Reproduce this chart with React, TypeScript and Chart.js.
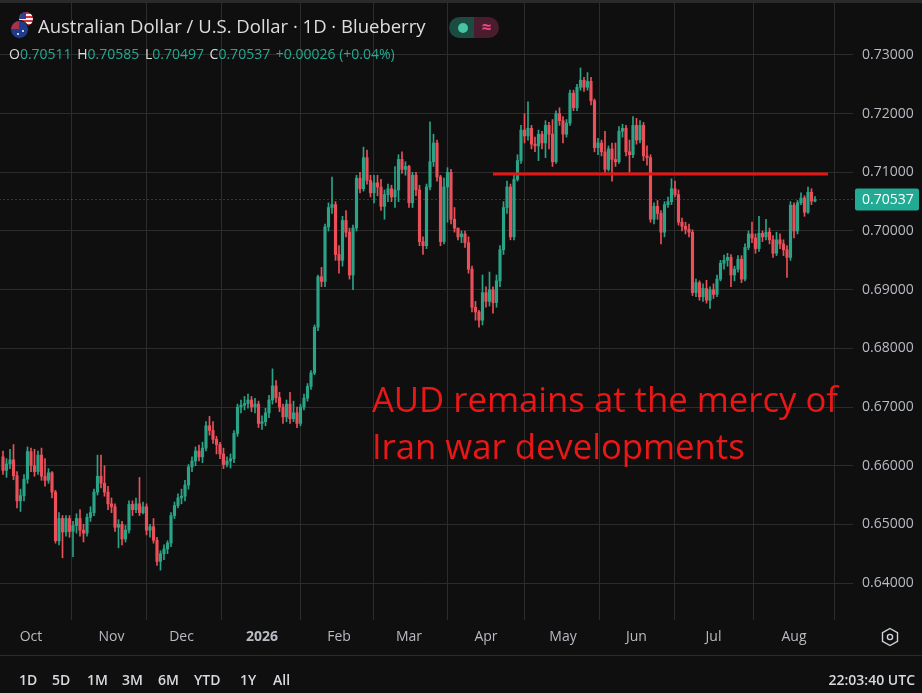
import { useEffect, useRef } from "react";
import Chart from "chart.js/auto";

// AUD/USD daily candles (open = previous close)
const FIRST_OPEN = 0.6615;

const CLOSES = [
  0.6592, 0.6603, 0.661, 0.6583, 0.654, 0.6549, 0.6577, 0.6624, 0.66, 0.659,
  0.6618, 0.6582, 0.6575, 0.6588, 0.6555, 0.6472, 0.651, 0.6487, 0.651, 0.6488,
  0.6498, 0.651, 0.649, 0.6485, 0.6512, 0.652, 0.6555, 0.6582, 0.657, 0.6555,
  0.6535, 0.653, 0.6495, 0.65, 0.6475, 0.649, 0.6534, 0.6525, 0.6535, 0.652,
  0.653, 0.649, 0.6496, 0.6473, 0.6437, 0.645, 0.6458, 0.6468, 0.6515, 0.6532,
  0.6545, 0.6548, 0.6567, 0.6598, 0.6608, 0.6625, 0.6615, 0.663, 0.6668, 0.666,
  0.6645, 0.6636, 0.662, 0.6602, 0.6608, 0.6612, 0.6655, 0.67, 0.6703, 0.6706,
  0.6712, 0.67, 0.6705, 0.6672, 0.6675, 0.669, 0.6712, 0.6736, 0.6716, 0.67,
  0.6683, 0.6705, 0.668, 0.669, 0.6672, 0.67, 0.6715, 0.6735, 0.6758, 0.6836,
  0.6922, 0.6914, 0.7007, 0.704, 0.7045, 0.696, 0.695, 0.7018, 0.6998, 0.6925,
  0.7005, 0.709, 0.7072, 0.7125, 0.7086, 0.7065, 0.7082, 0.7075, 0.7042, 0.7062,
  0.7072, 0.7058, 0.707, 0.7122, 0.7105, 0.711, 0.7048, 0.7095, 0.707, 0.6982,
  0.6975, 0.7075, 0.7118, 0.715, 0.7092, 0.6982, 0.7075, 0.71, 0.702, 0.7005,
  0.699, 0.6995, 0.698, 0.6935, 0.687, 0.6862, 0.6848, 0.6895, 0.688, 0.69,
  0.6878, 0.6915, 0.6968, 0.704, 0.7075, 0.699, 0.7088, 0.712, 0.7172, 0.7162,
  0.7175, 0.7148, 0.7145, 0.7165, 0.715, 0.718, 0.7165, 0.7118, 0.72, 0.7188,
  0.7165, 0.7184, 0.7235, 0.721, 0.7245, 0.7257, 0.7245, 0.7255, 0.7222, 0.7142,
  0.715, 0.7135, 0.7105, 0.714, 0.7122, 0.7118, 0.717, 0.7175, 0.7135, 0.713,
  0.718, 0.7155, 0.718, 0.7128, 0.7125, 0.702, 0.7042, 0.703, 0.6998, 0.7045,
  0.705, 0.7072, 0.7062, 0.7015, 0.7008, 0.7003, 0.6998, 0.6895, 0.6912, 0.6888,
  0.6902, 0.6882, 0.69, 0.6892, 0.6918, 0.6945, 0.695, 0.6955, 0.6925, 0.6935,
  0.6952, 0.6918, 0.6972, 0.6995, 0.6988, 0.697, 0.6996, 0.699, 0.6998, 0.6985,
  0.6962, 0.6985, 0.6978, 0.6968, 0.6955, 0.7044, 0.7, 0.7048, 0.7056, 0.7032,
  0.7066, 0.70511, 0.70537,
];

const HIGHS = [
  0.6625, 0.6612, 0.6628, 0.6636, 0.659, 0.656, 0.6585, 0.6632, 0.663, 0.6628,
  0.6625, 0.663, 0.6612, 0.6595, 0.659, 0.6558, 0.652, 0.6515, 0.6515, 0.6515,
  0.6505, 0.6518, 0.6525, 0.65, 0.6518, 0.653, 0.656, 0.6618, 0.6618, 0.66,
  0.6565, 0.6545, 0.6535, 0.6508, 0.6505, 0.6498, 0.654, 0.654, 0.6545, 0.658,
  0.6538, 0.6535, 0.65, 0.651, 0.6478, 0.6455, 0.6465, 0.6472, 0.652, 0.6538,
  0.6552, 0.656, 0.6575, 0.6602, 0.6615, 0.6632, 0.6635, 0.664, 0.6675, 0.6684,
  0.6675, 0.665, 0.664, 0.663, 0.6615, 0.662, 0.666, 0.6705, 0.6712, 0.6718,
  0.6722, 0.6718, 0.6715, 0.671, 0.6685, 0.6698, 0.672, 0.6765, 0.6745, 0.6725,
  0.6705, 0.6712, 0.6725, 0.671, 0.67, 0.6705, 0.6722, 0.674, 0.6762, 0.684,
  0.6925, 0.6938, 0.7012, 0.7048, 0.7092, 0.705, 0.6975, 0.7025, 0.7035, 0.7005,
  0.701, 0.7095, 0.71, 0.7143, 0.7138, 0.7095, 0.7095, 0.7095, 0.7088, 0.707,
  0.708, 0.7078, 0.711, 0.713, 0.7135, 0.7118, 0.7112, 0.71, 0.71, 0.7078,
  0.699, 0.708, 0.7186, 0.7165, 0.7155, 0.7095, 0.709, 0.7108, 0.7105, 0.704,
  0.7005, 0.7, 0.7, 0.699, 0.694, 0.688, 0.6865, 0.6925, 0.6905, 0.693,
  0.6905, 0.6925, 0.6975, 0.705, 0.7085, 0.708, 0.7095, 0.713, 0.718, 0.72,
  0.722, 0.718, 0.716, 0.7172, 0.717, 0.7188, 0.7185, 0.719, 0.7205, 0.721,
  0.7195, 0.719, 0.724, 0.724, 0.725, 0.7278, 0.7262, 0.727, 0.7262, 0.7225,
  0.7158, 0.7155, 0.717, 0.7145, 0.715, 0.715, 0.7178, 0.7182, 0.718, 0.7155,
  0.7195, 0.7192, 0.7188, 0.7185, 0.7145, 0.713, 0.7048, 0.7052, 0.7035, 0.705,
  0.7058, 0.7089, 0.7085, 0.707, 0.7022, 0.7015, 0.7012, 0.7002, 0.6918, 0.6915,
  0.691, 0.6916, 0.6905, 0.691, 0.6925, 0.695, 0.6959, 0.6962, 0.696, 0.694,
  0.6958, 0.6958, 0.6978, 0.7, 0.7015, 0.6995, 0.7025, 0.7, 0.702, 0.7005,
  0.6992, 0.6998, 0.6995, 0.6985, 0.6975, 0.705, 0.7048, 0.7052, 0.7065, 0.706,
  0.7075, 0.7072, 0.70585,
];

const LOWS = [
  0.6585, 0.658, 0.6595, 0.6576, 0.6528, 0.6522, 0.654, 0.657, 0.659, 0.6582,
  0.6585, 0.6575, 0.6565, 0.657, 0.6545, 0.6468, 0.6465, 0.6443, 0.648, 0.6478,
  0.6445, 0.6485, 0.648, 0.647, 0.648, 0.6505, 0.6515, 0.655, 0.6562, 0.6548,
  0.6525, 0.652, 0.6488, 0.646, 0.6465, 0.647, 0.6485, 0.6515, 0.652, 0.6515,
  0.6518, 0.6482, 0.6478, 0.6468, 0.643, 0.6422, 0.644, 0.645, 0.6462, 0.651,
  0.6528, 0.6535, 0.654, 0.656, 0.659, 0.66, 0.6608, 0.6605, 0.6625, 0.6652,
  0.6638, 0.662, 0.6612, 0.6595, 0.6598, 0.6596, 0.6605, 0.665, 0.669, 0.6695,
  0.6698, 0.6692, 0.669, 0.6665, 0.6662, 0.6668, 0.6682, 0.6705, 0.6708, 0.6692,
  0.6672, 0.6675, 0.6672, 0.6675, 0.6665, 0.6668, 0.6695, 0.671, 0.673, 0.6755,
  0.683, 0.6905, 0.6905, 0.7, 0.703, 0.695, 0.6928, 0.694, 0.699, 0.6918,
  0.69, 0.7, 0.7065, 0.7068, 0.708, 0.7058, 0.7048, 0.706, 0.7035, 0.702,
  0.705, 0.705, 0.704, 0.705, 0.7098, 0.7095, 0.704, 0.704, 0.706, 0.6975,
  0.696, 0.697, 0.707, 0.711, 0.7085, 0.6975, 0.6978, 0.7015, 0.7012, 0.6998,
  0.6985, 0.698, 0.6972, 0.6928, 0.6862, 0.6848, 0.6836, 0.684, 0.687, 0.6872,
  0.686, 0.687, 0.6905, 0.696, 0.703, 0.6985, 0.6985, 0.7085, 0.7115, 0.715,
  0.7155, 0.714, 0.7135, 0.712, 0.714, 0.7125, 0.714, 0.711, 0.7115, 0.718,
  0.715, 0.716, 0.718, 0.7205, 0.7205, 0.724, 0.7238, 0.724, 0.7215, 0.7135,
  0.713, 0.7128, 0.71, 0.7102, 0.7085, 0.711, 0.7115, 0.716, 0.7128, 0.71,
  0.7125, 0.7148, 0.715, 0.712, 0.7112, 0.7015, 0.7012, 0.702, 0.6978, 0.699,
  0.704, 0.7045, 0.7058, 0.701, 0.7, 0.6995, 0.699, 0.689, 0.6888, 0.6882,
  0.688, 0.6877, 0.6868, 0.6885, 0.6888, 0.6915, 0.6935, 0.694, 0.6905, 0.6915,
  0.693, 0.6912, 0.6915, 0.6968, 0.698, 0.6962, 0.6965, 0.6982, 0.6985, 0.6978,
  0.6955, 0.6958, 0.697, 0.6958, 0.6921, 0.695, 0.6988, 0.6995, 0.7045, 0.7025,
  0.703, 0.7045, 0.70497,
];

// month-start candle indices on the time axis
const MONTH_INDEX = [8, 31, 51, 74, 96, 116, 138, 160, 181, 203, 226];
const MONTH_LABELS = ["Oct", "Nov", "Dec", "2026", "Feb", "Mar", "Apr", "May", "Jun", "Jul", "Aug"];
const PRICE_TICKS = [0.64, 0.65, 0.66, 0.67, 0.68, 0.69, 0.7, 0.71, 0.72, 0.73];

const RESISTANCE_FROM = 140;
const RESISTANCE_TO = 235.7;
const RESISTANCE_PRICE = 0.7097;

const LAST_PRICE = 0.70537;
const NOTE_LINES = ["AUD remains at the mercy of", "Iran war developments"];
const NOTE_X = 105.4;
const NOTE_Y = [0.66915, 0.66114];

const UP = "#2aa387";
const DOWN = "#eb4f5a";
const BG = "#0f0f0f";
const GRID = "#2c2c2c";
const FONT = "'Open Sans', sans-serif";

const OPENS = CLOSES.map((_, i) => (i === 0 ? FIRST_OPEN : CLOSES[i - 1]));
const CANDLE_COLORS = CLOSES.map((c, i) => (c >= OPENS[i] ? UP : DOWN));

const overlayPlugin = {
  id: "overlay",
  afterDraw(chart: any) {
    const { ctx, chartArea } = chart;
    const x = chart.scales.x;
    const y = chart.scales.y;
    ctx.save();
    // annotation
    ctx.font = `34.7px ${FONT}`;
    ctx.fillStyle = "#ea1717";
    ctx.textBaseline = "alphabetic";
    ctx.textAlign = "left";
    NOTE_LINES.forEach((line, i) => {
      ctx.fillText(line, x.getPixelForValue(NOTE_X), y.getPixelForValue(NOTE_Y[i]));
    });
    // last price tag on the axis
    const py = y.getPixelForValue(LAST_PRICE);
    ctx.fillStyle = "#22ab94";
    ctx.beginPath();
    ctx.roundRect(chartArea.right + 2, py - 11, 64, 22, 2);
    ctx.fill();
    ctx.fillStyle = "#ffffff";
    ctx.font = `14px ${FONT}`;
    ctx.textBaseline = "middle";
    ctx.fillText(LAST_PRICE.toFixed(5), chartArea.right + 9, py + 1);
    ctx.restore();
  },
};

function Flags() {
  return (
    <div style={{ position: "absolute", left: 9, top: 11, width: 26, height: 28 }}>
      <div
        style={{
          position: "absolute", left: 10, top: 1, width: 14, height: 14, borderRadius: "50%",
          background: "repeating-linear-gradient(180deg,#d8343f 0 2px,#f2f2f2 2px 4px)",
          overflow: "hidden",
        }}
      >
        <div style={{ position: "absolute", left: 0, top: 0, width: 7, height: 7, background: "#2d3f8f" }} />
      </div>
      <div
        style={{
          position: "absolute", left: 1, top: 9, width: 17, height: 17, borderRadius: "50%",
          background: "#1f3b8c", border: "1px solid #0f0f0f", overflow: "hidden",
        }}
      >
        <div style={{ position: "absolute", left: 0, top: 0, width: 8, height: 8, background: "#c8313e", opacity: 0.8 }} />
        <div style={{ position: "absolute", left: 11, top: 9, width: 2, height: 2, background: "#fff", borderRadius: 1 }} />
        <div style={{ position: "absolute", left: 6, top: 12, width: 2, height: 2, background: "#fff", borderRadius: 1 }} />
      </div>
    </div>
  );
}

export default function App() {
  const canvasRef = useRef<HTMLCanvasElement>(null);

  useEffect(() => {
    document.body.style.margin = "0";
    const ctx = canvasRef.current?.getContext("2d");
    if (!ctx) return;

    const chart = new Chart(ctx, {
      type: "bar",
      data: {
        datasets: [
          {
            type: "line",
            label: "resistance",
            data: [
              { x: RESISTANCE_FROM, y: RESISTANCE_PRICE },
              { x: RESISTANCE_TO, y: RESISTANCE_PRICE },
            ],
            borderColor: "#e81414",
            borderWidth: 3,
            pointRadius: 0,
            order: 1,
          },
          {
            type: "line",
            label: "last",
            data: [
              { x: -1, y: LAST_PRICE },
              { x: 250, y: LAST_PRICE },
            ],
            borderColor: "rgba(38,166,154,0.75)",
            borderWidth: 1,
            borderDash: [1, 3],
            pointRadius: 0,
            order: 2,
          },
          {
            label: "body",
            data: CLOSES.map((c, i) => ({ x: i, y: [OPENS[i], c] })) as any,
            backgroundColor: CANDLE_COLORS,
            barThickness: 2.5,
            minBarLength: 1,
            grouped: false,
            order: 3,
          },
          {
            label: "wick",
            data: CLOSES.map((c, i) => ({
              x: i,
              y: [Math.min(LOWS[i], OPENS[i], c), Math.max(HIGHS[i], OPENS[i], c)],
            })) as any,
            backgroundColor: CANDLE_COLORS,
            barThickness: 1,
            grouped: false,
            order: 4,
          },
        ],
      },
      options: {
        responsive: false,
        animation: false,
        layout: { padding: 0 },
        plugins: { legend: { display: false }, tooltip: { enabled: false } },
        scales: {
          x: {
            type: "linear",
            offset: false,
            min: -0.857,
            max: 242.86,
            afterBuildTicks: (axis: any) => {
              axis.ticks = MONTH_INDEX.map((v) => ({ value: v }));
            },
            afterFit: (axis: any) => {
              axis.height = 73;
              axis.paddingLeft = 0;
              axis.paddingRight = 0;
            },
            grid: { color: GRID, drawTicks: false },
            border: { display: false },
            ticks: {
              autoSkip: false,
              maxRotation: 0,
              padding: 9,
              color: "#b8bbc2",
              font: (c: any) => ({
                family: FONT,
                size: 14,
                weight: c.tick && MONTH_LABELS[MONTH_INDEX.indexOf(c.tick.value)] === "2026" ? "bold" : "normal",
              }),
              callback: (v: any) => MONTH_LABELS[MONTH_INDEX.indexOf(Number(v))] ?? "",
            },
          },
          y: {
            type: "linear",
            position: "right",
            min: 0.6337,
            max: 0.73937,
            afterBuildTicks: (axis: any) => {
              axis.ticks = PRICE_TICKS.map((v) => ({ value: v }));
            },
            afterFit: (axis: any) => {
              axis.width = 69;
              axis.paddingTop = 0;
              axis.paddingBottom = 0;
            },
            grid: { color: GRID, drawTicks: false },
            border: { display: false },
            ticks: {
              padding: 9,
              color: "#b8bbc2",
              font: { family: FONT, size: 14 },
              callback: (v: any) => Number(v).toFixed(5),
            },
          },
        },
      },
      plugins: [overlayPlugin],
    });

    return () => chart.destroy();
  }, []);

  const tf = ["1D", "5D", "1M", "3M", "6M", "YTD", "1Y", "All"];
  const tfLeft = [19, 52, 87, 122, 158, 194, 240, 273];

  return (
    <div
      style={{
        position: "fixed", left: 0, top: 0, width: 922, height: 693, overflow: "hidden",
        background: BG, fontFamily: FONT, color: "#d9d9d9",
      }}
    >
      <canvas ref={canvasRef} width={922} height={693} style={{ position: "absolute", left: 0, top: 0 }} />
      <div style={{ position: "absolute", left: 0, top: 0, width: 922, height: 3, background: "#2a2a2a" }} />
      <Flags />
      <div style={{ position: "absolute", left: 38, top: 17, fontSize: 18.5, lineHeight: "18.5px", color: "#dedede", whiteSpace: "nowrap" }}>
        Australian Dollar / U.S. Dollar · 1D · Blueberry
      </div>
      <div style={{ position: "absolute", left: 449, top: 17, width: 50, height: 21, borderRadius: 11, overflow: "hidden", display: "flex" }}>
        <div style={{ width: 25, background: "#1c4b41", position: "relative" }}>
          <div style={{ position: "absolute", left: 9, top: 6, width: 10, height: 10, borderRadius: "50%", background: "#47c4a3" }} />
        </div>
        <div style={{ width: 25, background: "#4b1c2d", color: "#ec4a7e", fontSize: 17, lineHeight: "20px", textAlign: "center", fontWeight: 700 }}>≈</div>
      </div>
      <div style={{ position: "absolute", left: 9, top: 47, fontSize: 14, lineHeight: "14px", whiteSpace: "nowrap", color: "#22ab94" }}>
        <span style={{ color: "#dedede" }}>O</span>0.70511{" "}
        <span style={{ color: "#dedede", marginLeft: 2 }}>H</span>0.70585{" "}
        <span style={{ color: "#dedede", marginLeft: 2 }}>L</span>0.70497{" "}
        <span style={{ color: "#dedede", marginLeft: 2 }}>C</span>0.70537{" "}
        <span style={{ marginLeft: 2 }}>+0.00026 (+0.04%)</span>
      </div>
      <svg style={{ position: "absolute", left: 880, top: 627 }} width={20} height={20} viewBox="0 0 20 20">
        <polygon points="10,1.5 17.5,5.75 17.5,14.25 10,18.5 2.5,14.25 2.5,5.75" fill="none" stroke="#d1d4dc" strokeWidth={1.4} />
        <circle cx={10} cy={10} r={2.6} fill="none" stroke="#d1d4dc" strokeWidth={1.4} />
      </svg>
      <div style={{ position: "absolute", left: 0, top: 655, width: 922, height: 1, background: "#2a2a2a" }} />
      {tf.map((t, i) => (
        <div key={t} style={{ position: "absolute", left: tfLeft[i], top: 672, fontSize: 14, lineHeight: "16px", fontWeight: 600, color: "#d7d9de" }}>
          {t}
        </div>
      ))}
      <div style={{ position: "absolute", right: 7, top: 672, fontSize: 14, lineHeight: "16px", fontWeight: 600, color: "#d7d9de" }}>
        22:03:40 UTC
      </div>
    </div>
  );
}
